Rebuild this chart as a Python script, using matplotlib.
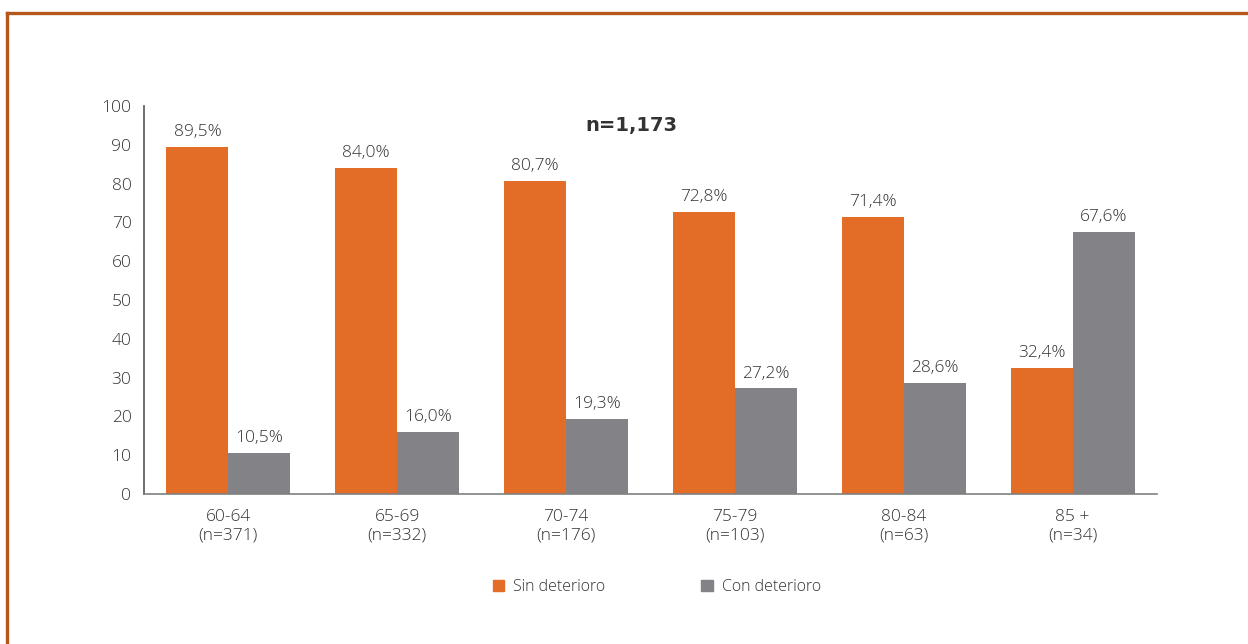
import matplotlib
matplotlib.use("Agg")
import matplotlib.pyplot as plt
from matplotlib.lines import Line2D
from matplotlib.patches import Patch
import numpy as np

categories = ["60-64\n(n=371)", "65-69\n(n=332)", "70-74\n(n=176)", "75-79\n(n=103)", "80-84\n(n=63)", "85 +\n(n=34)"]
sin_deterioro = [89.5, 84.0, 80.7, 72.8, 71.4, 32.4]
con_deterioro = [10.5, 16.0, 19.3, 27.2, 28.6, 67.6]
series_names = ["Sin deterioro", "Con deterioro"]
title = "n=1,173"

ORANGE = "#E36C26"
GRAY = "#838387"
TEXT = "#333333"
plt.rcParams['font.family'] = ['Open Sans', 'DejaVu Sans']
plt.rcParams['font.weight'] = 'light'

W, H = 1248, 644
fig = plt.figure(figsize=(W/100, H/100), dpi=100)
ax = fig.add_axes([144/W, 1-494/H, (1157-144)/W, (494-106)/H])

x = np.arange(len(categories))
w = 0.367
b1 = ax.bar(x - w/2, sin_deterioro, w, color=ORANGE, label=series_names[0])
b2 = ax.bar(x + w/2, con_deterioro, w, color=GRAY, label=series_names[1])

def fmt(v):
    return f"{v:.1f}%".replace(".", ",")

for bars, vals in ((b1, sin_deterioro), (b2, con_deterioro)):
    for r, v in zip(bars, vals):
        ax.annotate(fmt(v), (r.get_x() + r.get_width()/2, v), xytext=(0, 5),
                    textcoords="offset points", ha="center", va="bottom",
                    fontsize=12.5, color=TEXT)

ax.set_xlim(-0.5, len(categories) - 0.5)
ax.set_ylim(0, 100)
ax.set_yticks(range(0, 101, 10))
ax.set_xticks(x)
ax.set_xticklabels(categories, fontsize=12.5, color=TEXT, linespacing=1.2)
ax.tick_params(axis="y", length=0, labelsize=12.5, labelcolor=TEXT, pad=9)
ax.tick_params(axis="x", length=0, pad=11)
for s in ("top", "right"):
    ax.spines[s].set_visible(False)
ax.spines["left"].set_color("#555555")
ax.spines["left"].set_linewidth(1.2)
ax.spines["bottom"].set_color("#808080")
ax.spines["bottom"].set_linewidth(1.2)

fig.text(631/W, 1-125/H, title, ha="center", va="center", fontsize=14,
         fontweight="bold", color="#333333", family="DejaVu Sans")

handles = [Patch(color=ORANGE), Patch(color=GRAY)]
fig.legend(handles, series_names, loc="center", bbox_to_anchor=(657/W, 1-587/H),
           ncol=2, frameon=False, fontsize=11.5, handlelength=0.7, handleheight=0.7,
           columnspacing=6.0, handletextpad=0.6, labelcolor=TEXT)

BORDER = "#B5561A"
fig.add_artist(Line2D([7/W, 1], [1-13/H, 1-13/H], color=BORDER, lw=2.4, transform=fig.transFigure))
fig.add_artist(Line2D([7/W, 7/W], [0, 1-13/H], color=BORDER, lw=2.4, transform=fig.transFigure))

fig.savefig("out.png", dpi=100, facecolor="white")
